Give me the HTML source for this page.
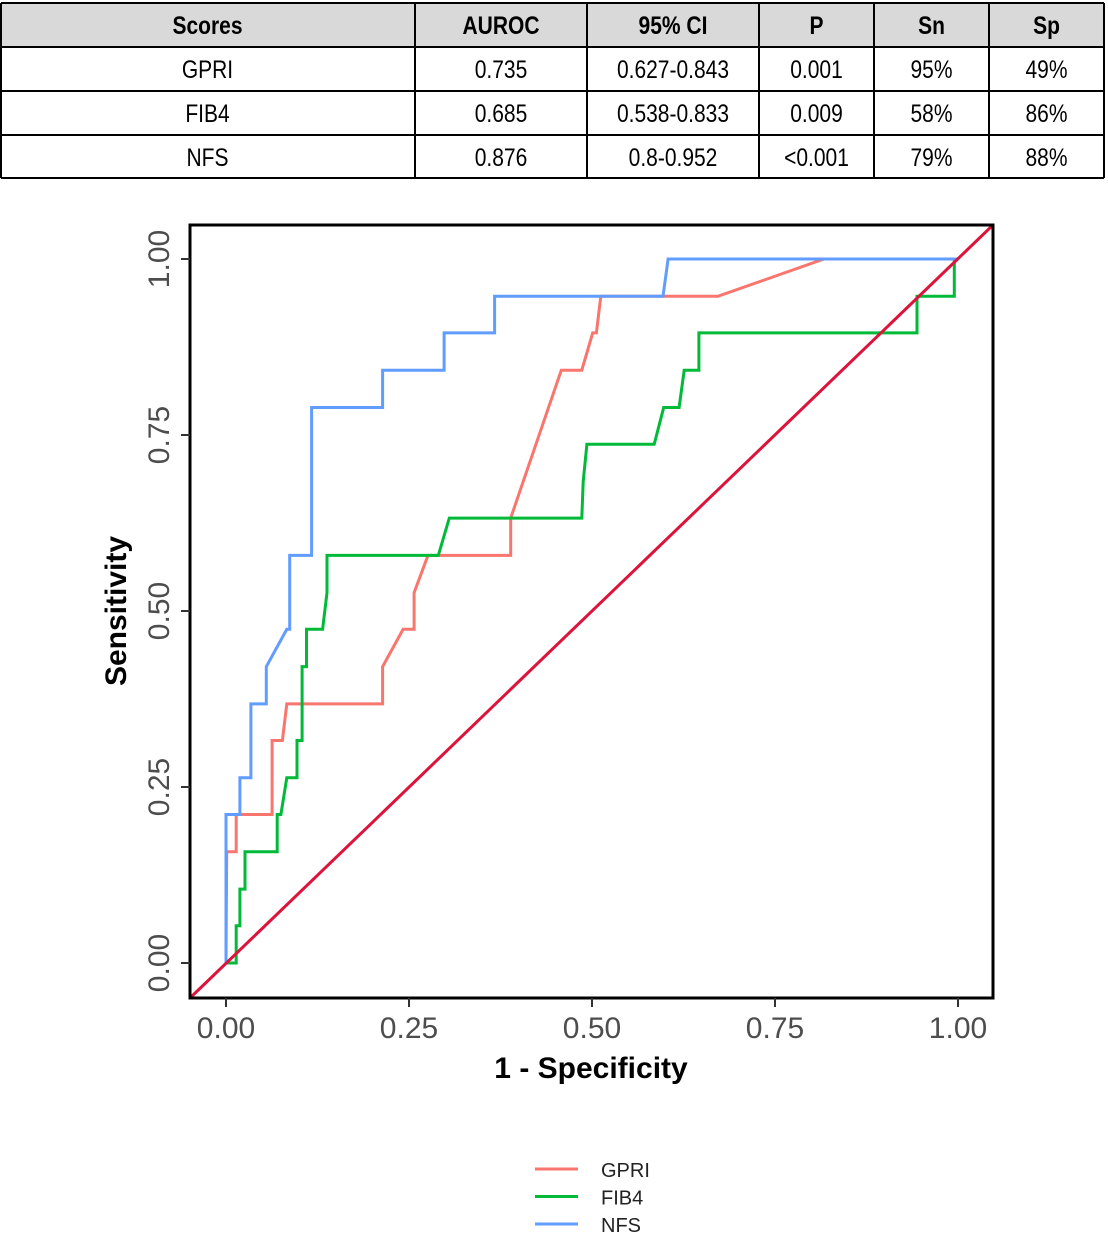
<!DOCTYPE html>
<html><head><meta charset="utf-8"><style>
body{margin:0;background:#fff;}
svg{display:block;font-family:"Liberation Sans",sans-serif;}
.n{font-family:"Liberation Sans Narrow","Liberation Sans",sans-serif;}
</style></head><body>
<svg id="s" width="1108" height="1233" viewBox="0 0 1108 1233">
<g id="tbl"></g>
<rect x="190" y="225" width="803" height="773" fill="#fff"/>
<g id="plot"></g>
<rect x="190" y="225" width="803" height="773" fill="none" stroke="#000" stroke-width="3"/>
<g id="axes"></g>
<text x="591" y="1078" text-anchor="middle" font-size="30" font-weight="bold">1 - Specificity</text>
<text transform="translate(126,611) rotate(-90)" text-anchor="middle" font-size="30" font-weight="bold">Sensitivity</text>
<g id="legend"></g>
</svg>
<script>
const NS='http://www.w3.org/2000/svg';
const headers=['Scores','AUROC','95% CI','P','Sn','Sp'];
const rows=[['GPRI','0.735','0.627-0.843','0.001','95%','49%'],['FIB4','0.685','0.538-0.833','0.009','58%','86%'],['NFS','0.876','0.8-0.952','<0.001','79%','88%']];
const series=['GPRI','FIB4','NFS'];
const colors=['#f8766d','#00ba38','#619cff'];
const gprX=[0,0.001,0.014,0.014,0.063,0.063,0.077,0.083,0.214,0.214,0.242,0.257,0.257,0.276,0.389,0.389,0.458,0.486,0.501,0.506,0.512,0.672,0.817,1];
const gprY=[0,0.158,0.158,0.211,0.211,0.316,0.316,0.368,0.368,0.421,0.474,0.474,0.526,0.579,0.579,0.632,0.842,0.842,0.895,0.895,0.947,0.947,1,1];
const fibX=[0,0.014,0.014,0.019,0.019,0.026,0.026,0.070,0.070,0.075,0.083,0.097,0.097,0.104,0.104,0.110,0.110,0.132,0.138,0.138,0.290,0.305,0.486,0.488,0.493,0.585,0.598,0.619,0.626,0.646,0.646,0.944,0.944,0.995,0.995];
const fibY=[0,0,0.053,0.053,0.105,0.105,0.158,0.158,0.211,0.211,0.263,0.263,0.316,0.316,0.421,0.421,0.474,0.474,0.526,0.579,0.579,0.632,0.632,0.684,0.737,0.737,0.789,0.789,0.842,0.842,0.895,0.895,0.947,0.947,1];
const nfsX=[0,0,0.019,0.019,0.034,0.034,0.055,0.055,0.083,0.087,0.087,0.117,0.117,0.214,0.214,0.298,0.298,0.367,0.367,0.597,0.604,1];
const nfsY=[0,0.211,0.211,0.263,0.263,0.368,0.368,0.421,0.474,0.474,0.579,0.579,0.789,0.789,0.842,0.842,0.895,0.895,0.947,0.947,1,1];
const ticks=[0,0.25,0.5,0.75,1];
const tickLabels=['0.00','0.25','0.50','0.75','1.00'];
const xs=v=>226+v*732, ys=v=>963-v*704;
function el(tag,a,p){const e=document.createElementNS(NS,tag);for(const k in a)e.setAttribute(k,a[k]);p.appendChild(e);return e;}
// table
const tbl=document.getElementById('tbl');
const cx=[0,415,587,759,874,989,1104], ry=[3,47,91,135,178];
el('rect',{x:1,y:3,width:1103,height:44,fill:'#d9d9d9'},tbl);
for(let r=0;r<4;r++){const vals=r===0?headers:rows[r-1];for(let c=0;c<6;c++){
 const t=el('text',{x:(cx[c]+cx[c+1])/2,y:ry[r]+31,'text-anchor':'middle','font-size':25,'font-weight':r===0?'bold':'normal',class:'n'},tbl);
 t.textContent=vals[c];
 
 
 const w=t.getComputedTextLength();
 if(w>0){t.setAttribute('textLength',(w*0.84).toFixed(1));t.setAttribute('lengthAdjust','spacingAndGlyphs');}}}
ry.forEach(y=>el('line',{x1:1,x2:1104,y1:y,y2:y,stroke:'#000','stroke-width':2},tbl));
cx.forEach(x=>el('line',{x1:Math.max(x,1),x2:Math.max(x,1),y1:3,y2:178,stroke:'#000','stroke-width':2},tbl));
// plot
const plot=document.getElementById('plot');
const data=[[gprX,gprY],[fibX,fibY],[nfsX,nfsY]];
data.forEach((d,i)=>{const pts=d[0].map((x,j)=>xs(x).toFixed(1)+','+ys(d[1][j]).toFixed(1)).join(' ');
 const pl=el('polyline',{points:pts,fill:'none',stroke:colors[i],'stroke-width':3,'stroke-linejoin':'miter'},plot);
 
 });
const dg=el('line',{x1:190,y1:998,x2:993,y2:225,stroke:'#dc143c','stroke-width':3},plot);


// axes
const ax=document.getElementById('axes');
ticks.forEach((v,i)=>{
 el('line',{x1:xs(v),x2:xs(v),y1:998,y2:1007,stroke:'#333','stroke-width':2},ax);
 el('line',{x1:181,x2:190,y1:ys(v),y2:ys(v),stroke:'#333','stroke-width':2},ax);
 const tx=el('text',{x:xs(v),y:1038,'text-anchor':'middle','font-size':30,fill:'#4d4d4d'},ax);
 tx.textContent=tickLabels[i];
 
 
 const ty=el('text',{transform:'translate(169,'+ys(v)+') rotate(-90)','text-anchor':'middle','font-size':30,fill:'#4d4d4d'},ax);
 ty.textContent=tickLabels[i];
 
 });
// legend
const lg=document.getElementById('legend');
series.forEach((s,i)=>{const y=1169+i*27.5;
 const g=el('g',{},lg);
 
 
 el('line',{x1:535,x2:578,y1:y,y2:y,stroke:colors[i],'stroke-width':3},g);
 const t=el('text',{x:601,y:y+8,'font-size':20,fill:'#222'},g);t.textContent=s;});
</script>
</body></html>
